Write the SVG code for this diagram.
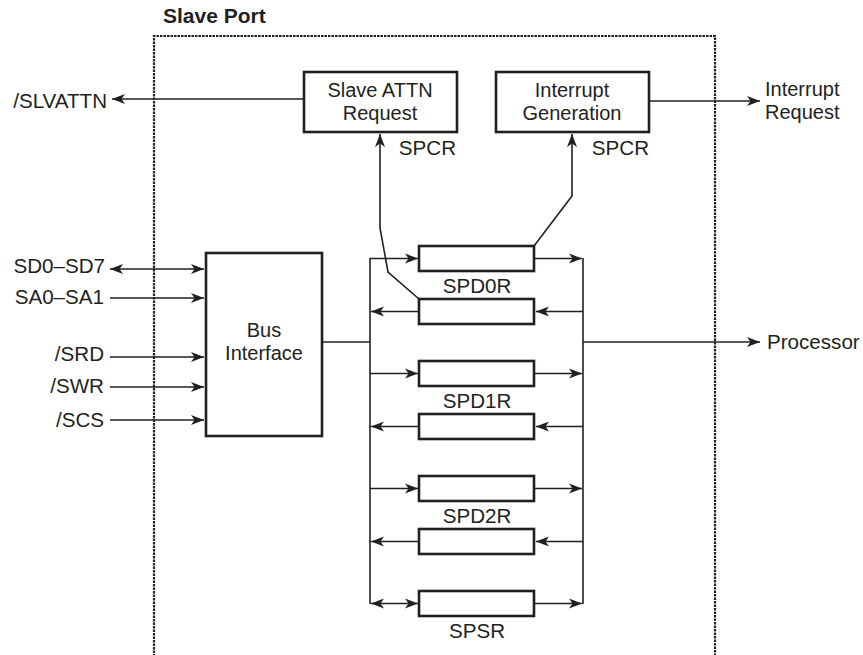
<svg xmlns="http://www.w3.org/2000/svg" width="863" height="655" viewBox="0 0 863 655">
<style>
text{font-family:"Liberation Sans",Arial,sans-serif;font-size:20.6px;fill:#231f20}
.t{font-weight:bold;font-size:21px}
.s{font-size:20px}
.m{text-anchor:middle}
.e{text-anchor:end}
.box{fill:#fff;stroke:#231f20;stroke-width:2.6}
.ln{fill:none;stroke:#231f20;stroke-width:1.6}
.ar{fill:none;stroke:#231f20;stroke-width:1.6;marker-end:url(#ah)}
.ar2{fill:none;stroke:#231f20;stroke-width:1.6;marker-end:url(#ah);marker-start:url(#ah)}
</style>
<defs>
<marker id="ah" markerUnits="userSpaceOnUse" markerWidth="16" markerHeight="12" viewBox="-14 -6 15 12" refX="0" refY="0" orient="auto-start-reverse">
<path d="M0,0 L-13,-5 L-9.5,0 L-13,5 Z" fill="#231f20"/>
</marker>
</defs>
<rect x="0" y="0" width="863" height="655" fill="#fff"/>
<g id="slave-port">
<path d="M154,660 L154,36 L715,36 L715,660" fill="none" stroke="#231f20" stroke-width="2.2" stroke-dasharray="2.5 1"/>
<text class="t" x="163" y="23">Slave Port</text>
</g>
<g id="slave-attn">
<rect class="box" x="304" y="72" width="153" height="60"/>
<text class="m s" x="380" y="97">Slave ATTN</text>
<text class="m s" x="380" y="120">Request</text>
<text class="e" x="456" y="155">SPCR</text>
</g>
<g id="interrupt-gen">
<rect class="box" x="496" y="72" width="153" height="60"/>
<text class="m s" x="572" y="97">Interrupt</text>
<text class="m s" x="572" y="120">Generation</text>
<text class="e" x="649" y="155">SPCR</text>
</g>
<g id="bus-interface">
<rect class="box" x="206" y="253" width="116" height="183"/>
<text class="m s" x="264" y="337">Bus</text>
<text class="m s" x="264" y="360">Interface</text>
</g>
<g id="spd0r">
<rect class="box" x="419" y="246" width="115" height="25"/>
<rect class="box" x="419" y="299" width="115" height="25"/>
<text class="m" x="477" y="293">SPD0R</text>
</g>
<g id="spd1r">
<rect class="box" x="419" y="361" width="115" height="25"/>
<rect class="box" x="419" y="414" width="115" height="25"/>
<text class="m" x="477" y="408">SPD1R</text>
</g>
<g id="spd2r">
<rect class="box" x="419" y="476" width="115" height="25"/>
<rect class="box" x="419" y="529" width="115" height="25"/>
<text class="m" x="477" y="523">SPD2R</text>
</g>
<g id="spsr">
<rect class="box" x="419" y="591" width="115" height="25"/>
<text class="m" x="477" y="638">SPSR</text>
</g>
<g id="labels">
<text class="e" x="107" y="108">/SLVATTN</text>
<text class="s" x="765" y="96">Interrupt</text>
<text class="s" x="765" y="119">Request</text>
<text class="e" x="105" y="273">SD0–SD7</text>
<text class="e" x="104" y="304">SA0–SA1</text>
<text class="e" x="104" y="361">/SRD</text>
<text class="e" x="104" y="393">/SWR</text>
<text class="e" x="104" y="427">/SCS</text>
<text x="767" y="349">Processor</text>
</g>
<g id="connectors">
<line class="ar" x1="304" y1="99" x2="112" y2="99"/>
<line class="ar" x1="649" y1="101" x2="760" y2="101"/>
<path class="ar" d="M534,246 L572,196 L572,134"/>
<path class="ar" d="M419,299 L388,272 L380,228 L380,134"/>
<line class="ar2" x1="110" y1="269" x2="204" y2="269"/>
<line class="ar" x1="110" y1="298" x2="204" y2="298"/>
<line class="ar" x1="110" y1="357" x2="204" y2="357"/>
<line class="ar" x1="110" y1="387" x2="204" y2="387"/>
<line class="ar" x1="110" y1="420" x2="204" y2="420"/>
<line class="ln" x1="322" y1="342" x2="370" y2="342"/>
<line class="ln" x1="370" y1="258" x2="370" y2="604"/>
<line class="ln" x1="583" y1="258" x2="583" y2="604"/>
<line class="ar" x1="583" y1="342" x2="760" y2="342"/>
<line class="ar" x1="370" y1="258.5" x2="418" y2="258.5"/>
<line class="ar" x1="535" y1="258.5" x2="582" y2="258.5"/>
<line class="ar" x1="583" y1="311.5" x2="536" y2="311.5"/>
<line class="ar" x1="419" y1="311.5" x2="371" y2="311.5"/>
<line class="ar" x1="370" y1="373.5" x2="418" y2="373.5"/>
<line class="ar" x1="535" y1="373.5" x2="582" y2="373.5"/>
<line class="ar" x1="583" y1="426.5" x2="536" y2="426.5"/>
<line class="ar" x1="419" y1="426.5" x2="371" y2="426.5"/>
<line class="ar" x1="370" y1="488.5" x2="418" y2="488.5"/>
<line class="ar" x1="535" y1="488.5" x2="582" y2="488.5"/>
<line class="ar" x1="583" y1="541.5" x2="536" y2="541.5"/>
<line class="ar" x1="419" y1="541.5" x2="371" y2="541.5"/>
<line class="ar2" x1="371" y1="603.5" x2="418" y2="603.5"/>
<line class="ar" x1="535" y1="603.5" x2="582" y2="603.5"/>
</g>
</svg>
